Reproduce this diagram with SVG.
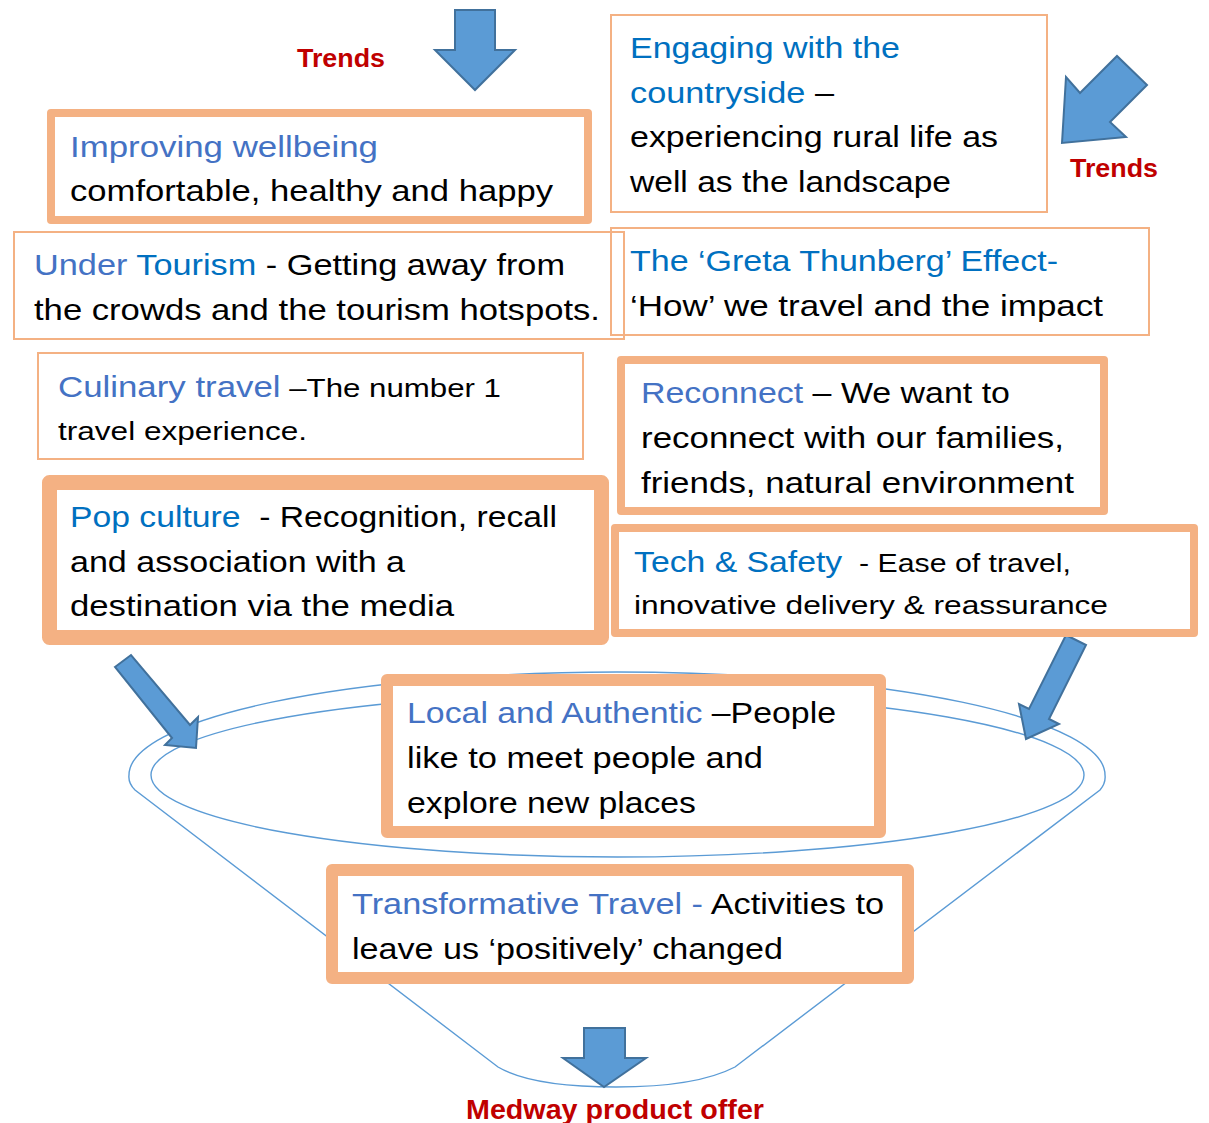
<svg xmlns="http://www.w3.org/2000/svg" width="1209" height="1123" viewBox="0 0 1209 1123">
<style>
text{font-family:"Liberation Sans",Arial,sans-serif;font-size:29px;fill:#000}
.s{font-size:26px}
.b1{fill:#4472C4}
.b2{fill:#0070C0}
.red{fill:#C00000;font-weight:bold}
.thin{fill:none;stroke:#F4B183;stroke-width:2}
.thick{fill:#fff;stroke:#F4B183;stroke-linejoin:round}
.arr{fill:#5B9BD5;stroke:#41719C;stroke-width:2;stroke-linejoin:miter}
.fun{fill:none;stroke:#5B9BD5;stroke-width:1.4}
</style>
<rect width="1209" height="1123" fill="#fff"/>
<g id="funnel">
<path class="fun" d="M135,790 Q128,783 129,775 A488,103 0 0 1 1105,775 Q1106,783 1100,790 L735,1067 C710,1080 670,1087 616,1087 C560,1087 520,1080 498,1067 Z"/>
<ellipse class="fun" cx="617.5" cy="775" rx="466.5" ry="82"/>
</g>
<g id="connectors">
<polygon class="arr" points="455,10 495,10 495,50 515,50 475,90 435,50 455,50"/>
<polygon class="arr" points="1062,143 1066,77 1080,93 1117,56 1147,85 1110,122 1126,137"/>
<polygon class="arr" points="115,667 131,655 190,725 198,717 196,748 165,745 172,738"/>
<polygon class="arr" points="1066,635 1086,645 1049,719 1059,724 1026,739 1019,704 1029,709"/>
<polygon class="arr" points="584,1028 625,1028 625,1058 646,1058 604,1087 563,1058 584,1058"/>
</g>
<g id="trends-top"><text class="red" x="297" y="67" style="font-size:26px" textLength="88" lengthAdjust="spacingAndGlyphs">Trends</text></g>
<g id="trends-right"><text class="red" x="1070" y="177" style="font-size:26px" textLength="88" lengthAdjust="spacingAndGlyphs">Trends</text></g>
<g id="engaging">
<rect class="thin" x="611" y="15" width="436" height="197"/>
<text x="630" y="58" textLength="270" lengthAdjust="spacingAndGlyphs"><tspan class="b2">Engaging with the</tspan></text>
<text x="630" y="103" textLength="204" lengthAdjust="spacingAndGlyphs"><tspan class="b2">countryside</tspan> –</text>
<text x="630" y="147" textLength="368" lengthAdjust="spacingAndGlyphs">experiencing rural life as</text>
<text x="630" y="192" textLength="321" lengthAdjust="spacingAndGlyphs">well as the landscape</text>
</g>
<g id="improving">
<rect class="thick" x="51" y="113" width="537" height="107" stroke-width="8"/>
<text x="70" y="157" textLength="308" lengthAdjust="spacingAndGlyphs"><tspan class="b1">Improving wellbeing</tspan></text>
<text x="70" y="201" textLength="483" lengthAdjust="spacingAndGlyphs">comfortable, healthy and happy</text>
</g>
<g id="greta">
<rect class="thin" x="611" y="228" width="538" height="107"/>
<text x="630" y="271" textLength="428" lengthAdjust="spacingAndGlyphs"><tspan class="b2">The ‘Greta Thunberg’ Effect-</tspan></text>
<text x="630" y="316" textLength="473" lengthAdjust="spacingAndGlyphs">‘How’ we travel and the impact</text>
</g>
<g id="under-tourism">
<rect class="thin" x="14" y="232" width="610" height="107"/>
<text x="34" y="275" textLength="531" lengthAdjust="spacingAndGlyphs"><tspan class="b1">Under </tspan><tspan class="b2">Tourism</tspan> - Getting away from</text>
<text x="34" y="320" textLength="566" lengthAdjust="spacingAndGlyphs">the crowds and the tourism hotspots.</text>
</g>
<g id="culinary">
<rect class="thin" x="38" y="353" width="545" height="106"/>
<text x="58" y="397" textLength="443" lengthAdjust="spacingAndGlyphs"><tspan class="b1">Culinary travel</tspan><tspan class="s"> –The number 1</tspan></text>
<text class="s" x="58" y="440" textLength="249" lengthAdjust="spacingAndGlyphs">travel experience.</text>
</g>
<g id="reconnect">
<rect class="thick" x="621" y="360" width="483" height="151" stroke-width="8"/>
<text x="641" y="403" textLength="369" lengthAdjust="spacingAndGlyphs"><tspan class="b1">Reconnect</tspan> – We want to</text>
<text x="641" y="448" textLength="423" lengthAdjust="spacingAndGlyphs">reconnect with our families,</text>
<text x="641" y="493" textLength="433" lengthAdjust="spacingAndGlyphs">friends, natural environment</text>
</g>
<g id="pop-culture">
<rect class="thick" x="49.5" y="482.5" width="552" height="155" stroke-width="15"/>
<text x="70" y="527" textLength="487" lengthAdjust="spacingAndGlyphs"><tspan class="b2">Pop culture</tspan> &#160;- Recognition, recall</text>
<text x="70" y="572" textLength="335" lengthAdjust="spacingAndGlyphs">and association with a</text>
<text x="70" y="616" textLength="384" lengthAdjust="spacingAndGlyphs">destination via the media</text>
</g>
<g id="tech-safety">
<rect class="thick" x="615" y="528" width="579" height="105" stroke-width="8"/>
<text x="634" y="572" textLength="437" lengthAdjust="spacingAndGlyphs"><tspan class="b2">Tech &amp; Safety</tspan><tspan class="s"> &#160;- Ease of travel,</tspan></text>
<text class="s" x="634" y="614" textLength="474" lengthAdjust="spacingAndGlyphs">innovative delivery &amp; reassurance</text>
</g>
<g id="local-authentic">
<rect class="thick" x="387" y="680" width="493" height="152" stroke-width="12"/>
<text x="407" y="723" textLength="429" lengthAdjust="spacingAndGlyphs"><tspan class="b1">Local and Authentic</tspan> –People</text>
<text x="407" y="768" textLength="356" lengthAdjust="spacingAndGlyphs">like to meet people and</text>
<text x="407" y="813" textLength="289" lengthAdjust="spacingAndGlyphs">explore new places</text>
</g>
<g id="transformative">
<rect class="thick" x="332" y="870" width="576" height="108" stroke-width="12"/>
<text x="352" y="914" textLength="532" lengthAdjust="spacingAndGlyphs"><tspan class="b1">Transformative Travel - </tspan>Activities to</text>
<text x="352" y="959" textLength="431" lengthAdjust="spacingAndGlyphs">leave us ‘positively’ changed</text>
</g>
<g id="medway"><text class="red" x="466" y="1119" style="font-size:27px" textLength="298" lengthAdjust="spacingAndGlyphs">Medway product offer</text></g>
</svg>
